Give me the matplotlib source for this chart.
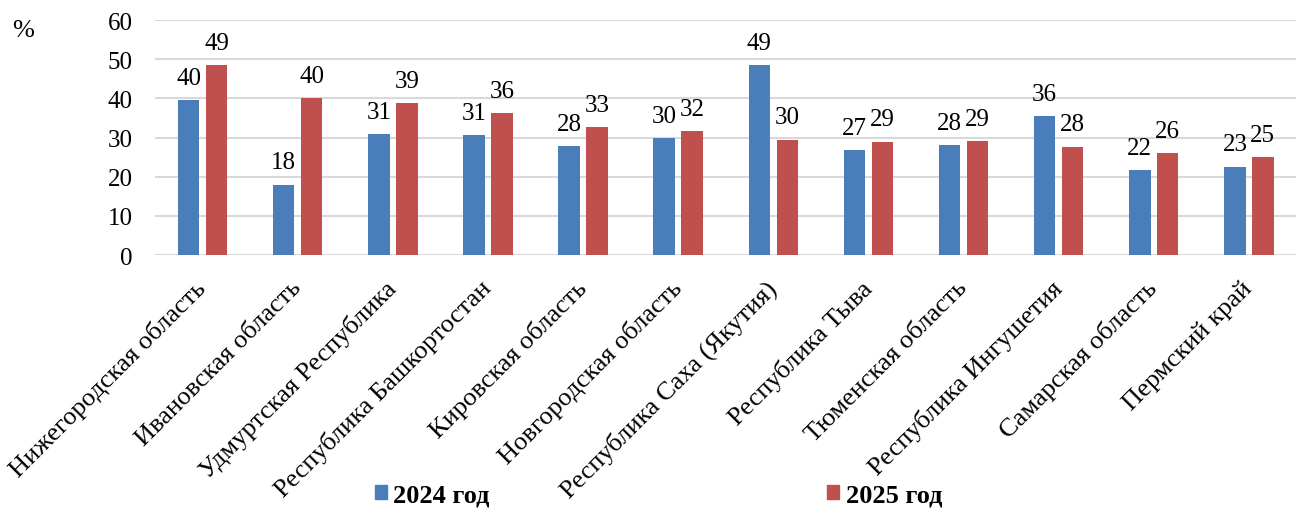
import matplotlib.pyplot as plt
import numpy as np
from matplotlib.patches import Patch

regions = ["Нижегородская область", "Ивановская область", "Удмуртская Республика",
           "Республика Башкортостан", "Кировская область", "Новгородская область",
           "Республика Саха (Якутия)", "Республика Тыва", "Тюменская область",
           "Республика Ингушетия", "Самарская область", "Пермский край"]
y2024 = [39.6, 18.0, 30.8, 30.6, 27.9, 29.8, 48.6, 26.9, 28.1, 35.6, 21.6, 22.6]
y2025 = [48.6, 40.2, 38.8, 36.2, 32.6, 31.6, 29.5, 29.0, 29.1, 27.7, 26.1, 25.0]
series_names = ["2024 год", "2025 год"]

plt.rcParams['font.family'] = ['Liberation Serif', 'DejaVu Serif']
fs = 18

fig = plt.figure(figsize=(13.09, 5.10), dpi=100)
ax = fig.add_axes([0.1184, 0.498, 0.872, 0.4605])

x = np.arange(len(regions))
w = 0.226
off = 0.147
b1 = ax.bar(x - off, y2024, w, color="#4a7ebb", zorder=3)
b2 = ax.bar(x + off, y2025, w, color="#c0504d", zorder=3)
ax.bar_label(b1, fmt="%.0f", padding=8, fontsize=fs)
ax.bar_label(b2, fmt="%.0f", padding=8, fontsize=fs)

ax.set_xlim(-0.5, len(regions) - 0.5)
ax.set_ylim(0, 60)
ax.set_yticks(range(0, 61, 10))
ax.yaxis.grid(True, color="#d9d9d9", linewidth=1.5, zorder=0)
ax.set_axisbelow(True)
for s in ax.spines.values():
    s.set_visible(False)
ax.tick_params(axis='y', length=0, pad=16, labelsize=fs)
ax.tick_params(axis='x', length=0, pad=21)
ax.set_xticks(x)
ax.set_xticklabels(regions, rotation=45, ha='right', va='center',
                   rotation_mode='anchor', fontsize=19)

fig.text(0.009, 0.94, "%", fontsize=19, ha='left', va='center')

handles = [Patch(color="#4a7ebb"), Patch(color="#c0504d")]
fig.legend(handles, series_names, loc='center', bbox_to_anchor=(0.503, 0.027),
           ncol=2, frameon=False, handlelength=0.45, handleheight=0.45,
           handletextpad=0.25, columnspacing=12.8,
           prop={'size': 19, 'weight': 'bold'})

fig.savefig("out.png", dpi=100)
